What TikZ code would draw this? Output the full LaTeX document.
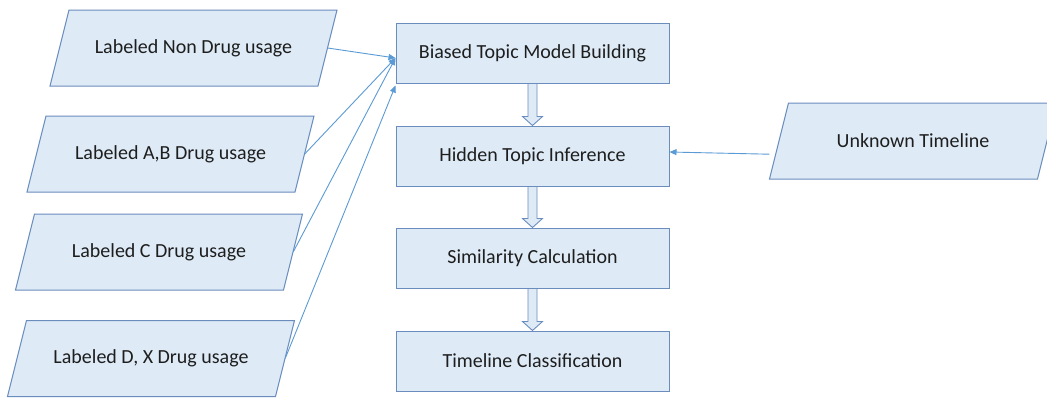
\documentclass[tikz,border=0pt]{standalone}
\usepackage{fontspec}
\setmainfont{Carlito}
\usetikzlibrary{arrows.meta,calc}
\definecolor{boxfill}{HTML}{DEEBF7}
\definecolor{boxline}{HTML}{6A8DBE}
\definecolor{linkc}{HTML}{5B9BD5}
\definecolor{txt}{HTML}{1E1E1E}
% hollow block arrow pointing down from one process box to the next
\newcommand\blockdown[2]{%
  \draw[blk] let \p1=(#1.south), \p2=(#2.north) in
    (\x1-4.5pt,\y1) -- (\x1+4.5pt,\y1) -- (\x1+4.5pt,\y2+9pt) -- (\x1+10pt,\y2+9pt)
    -- (\x1,\y2) -- (\x1-10pt,\y2+9pt) -- (\x1-4.5pt,\y2+9pt) -- cycle;}
% data parallelogram (leaning right) with a named text node over it
\newcommand\datanode[3]{%
  \draw[dataframe] ($(#2)+(-143.5,38)$) -- ($(#2)+(124.5,38)$)
    -- ($(#2)+(143.5,-38)$) -- ($(#2)+(-124.5,-38)$) -- cycle;
  \node[datatext] (#1) at (#2) {#3};}
\begin{document}
\begin{tikzpicture}[x=1pt,y=-1pt,
  font=\fontsize{20}{24}\selectfont, text=txt,
  proc/.style={draw=boxline, fill=boxfill, line width=1pt,
    minimum width=273pt, minimum height=60pt, inner sep=0pt},
  dataframe/.style={draw=boxline, fill=boxfill, line width=1pt, line join=miter},
  datatext/.style={minimum width=268pt, minimum height=76pt, inner sep=0pt},
  link/.style={draw=linkc, line width=0.9pt, -{Triangle[length=7pt,width=6pt]}},
  blk/.style={draw=boxline, fill=boxfill, line width=0.9pt}]
\fill[white] (0,0) rectangle (1047,397);
\useasboundingbox (0,0) rectangle (1047,397);

% process steps
\coordinate (c1) at (532.5,53);
\coordinate (c2) at (532.5,156);
\coordinate (c3) at (532.5,258);
\coordinate (c4) at (532.5,361);
\path (c1) node[proc] (b1) {} (c2) node[proc] (b2) {}
      (c3) node[proc] (b3) {} (c4) node[proc] (b4) {};
\blockdown{b1}{b2}
\blockdown{b2}{b3}
\blockdown{b3}{b4}
\node[proc] (t1) at (c1) {Biased Topic Model Building};
\node[proc] (t2) at (c2) {Hidden Topic Inference};
\node[proc] (t3) at (c3) {Similarity Calculation};
\node[proc] (t4) at (c4) {Timeline Classification};

% labelled inputs
\datanode{p1}{193.5,48}{Labeled Non Drug usage}
\datanode{p2}{170.5,154}{Labeled A,B Drug usage}
\datanode{p3}{159,252}{Labeled C Drug usage}
\datanode{p4}{151,358.5}{Labeled D, X Drug usage}
\datanode{ut}{913,141}{Unknown Timeline}

% connectors
\draw[link] (p1.east) -- ($(b1.west)+(0,5)$);
\draw[link] (p2.east) -- ($(b1.west)+(0,5)$);
\draw[link] (p3.east) -- ($(b1.west)+(0,5)$);
\draw[link] (p4.east) -- ($(b1.south west)+(0,2)$);
\draw[link] ($(ut.south west)+(-9.5,-25)$) -- ($(b2.east)+(0,-4)$);
\end{tikzpicture}
\end{document}
